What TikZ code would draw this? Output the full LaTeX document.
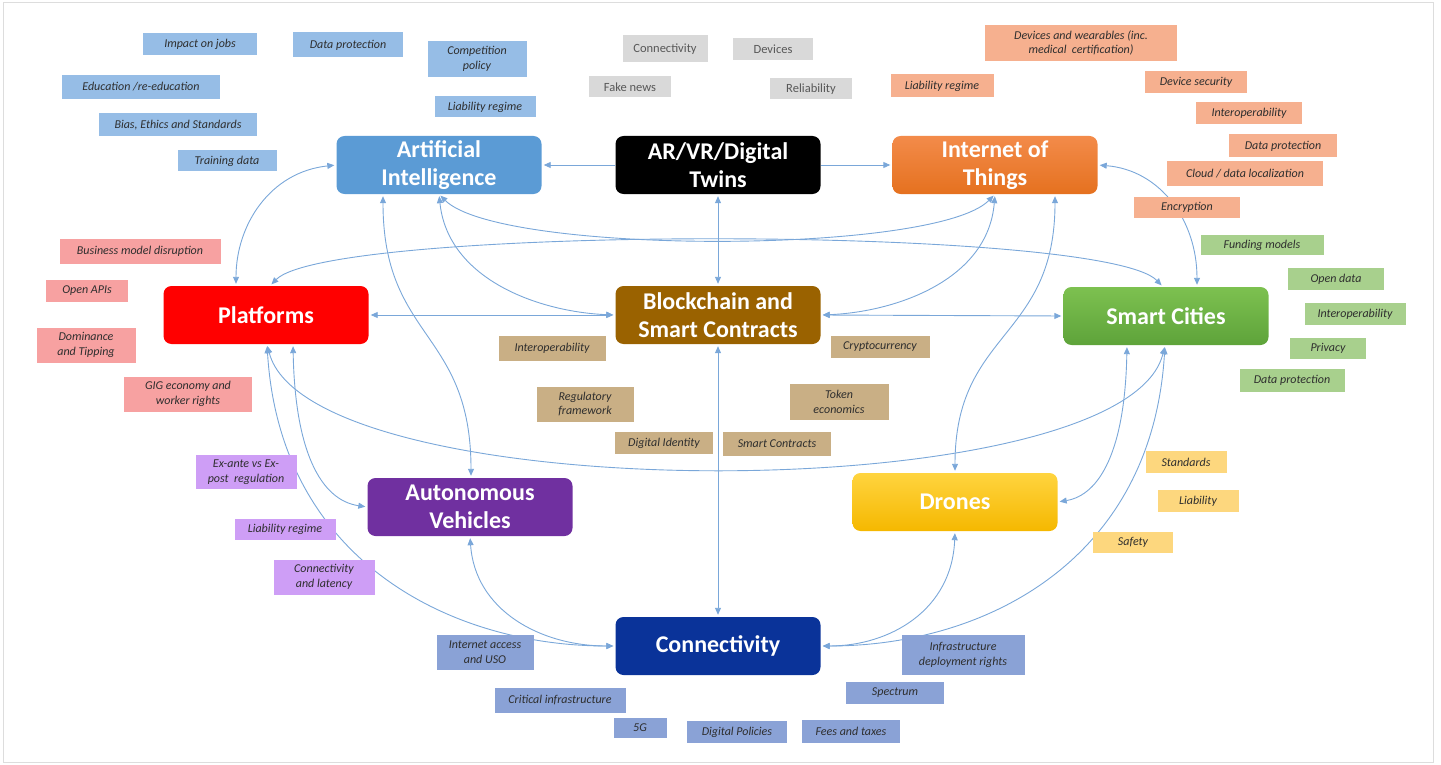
\documentclass[tikz,border=0pt]{standalone}
\usepackage{fontspec}
\setmainfont{Carlito}
\usetikzlibrary{arrows.meta,backgrounds}
\definecolor{aiC}{HTML}{5B9BD5}
\definecolor{iotT}{HTML}{F38B4A}
\definecolor{iotB}{HTML}{E5711F}
\definecolor{plC}{HTML}{FF0000}
\definecolor{bcC}{HTML}{9A6200}
\definecolor{scT}{HTML}{7DC150}
\definecolor{scB}{HTML}{5EA33A}
\definecolor{avC}{HTML}{7030A0}
\definecolor{drT}{HTML}{FFD43F}
\definecolor{drB}{HTML}{F5B800}
\definecolor{coC}{HTML}{0A3399}
\definecolor{aiL}{HTML}{96BDE6}
\definecolor{grL}{HTML}{D9D9D9}
\definecolor{iotL}{HTML}{F6B08F}
\definecolor{plL}{HTML}{F7A1A1}
\definecolor{bcL}{HTML}{C9AF85}
\definecolor{scL}{HTML}{A8D08D}
\definecolor{avL}{HTML}{CE9EF6}
\definecolor{coL}{HTML}{8AA2D6}
\definecolor{drL}{HTML}{FDD77E}
\definecolor{lnk}{HTML}{7AA7D9}
\definecolor{lbtext}{HTML}{2E2E2E}
\definecolor{framec}{HTML}{DDDDDD}
\begin{document}
\begin{tikzpicture}[x=1pt,y=-1pt,
  mainbox/.style={rounded corners=8pt, minimum width=205pt, minimum height=58pt,
    text=white, font=\bfseries\fontsize{24}{28}\selectfont, align=center, inner sep=2pt},
  lab/.style={inner sep=1pt, align=center, font=\itshape\fontsize{12}{14.5}\selectfont, text=lbtext},
  glab/.style={inner sep=1pt, align=center, font=\fontsize{12.5}{15}\selectfont, text=lbtext!80, fill=grL},
  link/.style={draw=lnk, line width=0.9pt, {Triangle[length=7pt,width=6pt]}-{Triangle[length=7pt,width=6pt]}, shorten <=2pt, shorten >=2pt},
  link1/.style={draw=lnk, line width=0.9pt, -{Triangle[length=7pt,width=6pt]}, shorten >=2pt}]
\useasboundingbox (0,0) rectangle (1441,765);
\draw[framec, line width=1pt] (3,3) rectangle (1433,762);

% main nodes
\node[mainbox, fill=aiC] (ai) at (439,165) {Artificial\\Intelligence};
\node[mainbox, fill=black] (ar) at (718,165) {AR/VR/Digital\\Twins};
\node[mainbox, top color=iotT, bottom color=iotB] (iot) at (995,165) {Internet of\\Things};
\node[mainbox, fill=plC] (plat) at (266,315) {Platforms};
\node[mainbox, fill=bcC] (bc) at (718,315) {Blockchain and\\Smart Contracts};
\node[mainbox, top color=scT, bottom color=scB] (sc) at (1166,316) {Smart Cities};
\node[mainbox, fill=avC] (av) at (470,507) {Autonomous\\Vehicles};
\node[mainbox, top color=drT, bottom color=drB] (dr) at (955,502) {Drones};
\node[mainbox, fill=coC] (con) at (718,646) {Connectivity};

% AI labels
\node[lab, fill=aiL, minimum width=114pt, minimum height=22pt] (l1) at (200,44) {Impact on jobs};
\node[lab, fill=aiL, minimum width=110pt, minimum height=25pt] (l2) at (348,45) {Data protection};
\node[lab, fill=aiL, minimum width=158pt, minimum height=24pt] (l3) at (141,87) {Education /re-education};
\node[lab, fill=aiL, minimum width=158pt, minimum height=23pt] (l4) at (178,125) {Bias, Ethics and Standards};
\node[lab, fill=aiL, minimum width=99pt, minimum height=21pt] (l5) at (227,161) {Training data};
\node[lab, fill=aiL, minimum width=99pt, minimum height=36pt] (l6) at (477,59) {Competition\\policy};
\node[lab, fill=aiL, minimum width=101pt, minimum height=21pt] (l7) at (485,107) {Liability regime};

% AR/VR labels
\node[glab, minimum width=85pt, minimum height=27pt] (g1) at (665,49) {Connectivity};
\node[glab, minimum width=80pt, minimum height=22pt] (g2) at (773,49) {Devices};
\node[glab, minimum width=82pt, minimum height=21pt] (g3) at (630,87) {Fake news};
\node[glab, minimum width=82pt, minimum height=21pt] (g4) at (811,89) {Reliability};

% IoT labels
\node[lab, fill=iotL, minimum width=192pt, minimum height=36pt] (i1) at (1081,43) {Devices and wearables (inc.\\medical~~certification)};
\node[lab, fill=iotL, minimum width=103pt, minimum height=23pt] (i2) at (942,86) {Liability regime};
\node[lab, fill=iotL, minimum width=102pt, minimum height=22pt] (i3) at (1196,82) {Device security};
\node[lab, fill=iotL, minimum width=106pt, minimum height=22pt] (i4) at (1249,113) {Interoperability};
\node[lab, fill=iotL, minimum width=108pt, minimum height=23pt] (i5) at (1283,146) {Data protection};
\node[lab, fill=iotL, minimum width=156pt, minimum height=25pt] (i6) at (1245,174) {Cloud / data localization};
\node[lab, fill=iotL, minimum width=106pt, minimum height=21pt] (i7) at (1187,207) {Encryption};

% Platforms labels
\node[lab, fill=plL, minimum width=161pt, minimum height=25pt] (p1) at (140,251) {Business model disruption};
\node[lab, fill=plL, minimum width=82pt, minimum height=22pt] (p2) at (87,291) {Open APIs};
\node[lab, fill=plL, minimum width=99pt, minimum height=35pt] (p3) at (86,345) {Dominance\\and Tipping};
\node[lab, fill=plL, minimum width=128pt, minimum height=35pt] (p4) at (188,394) {GIG economy and\\worker rights};

% Blockchain labels
\node[lab, fill=bcL, minimum width=107pt, minimum height=25pt] (b1) at (552,348) {Interoperability};
\node[lab, fill=bcL, minimum width=99pt, minimum height=22pt] (b2) at (880,347) {Cryptocurrency};
\node[lab, fill=bcL, minimum width=97pt, minimum height=35pt] (b3) at (585,404) {Regulatory\\framework};
\node[lab, fill=bcL, minimum width=99pt, minimum height=36pt] (b4) at (839,402) {Token\\economics};
\node[lab, fill=bcL, minimum width=98pt, minimum height=22pt] (b5) at (664,443) {Digital Identity};
\node[lab, fill=bcL, minimum width=108pt, minimum height=24pt] (b6) at (777,444) {Smart Contracts};

% Smart Cities labels
\node[lab, fill=scL, minimum width=123pt, minimum height=20pt] (s1) at (1262,245) {Funding models};
\node[lab, fill=scL, minimum width=96pt, minimum height=22pt] (s2) at (1336,279) {Open data};
\node[lab, fill=scL, minimum width=101pt, minimum height=22pt] (s3) at (1355,314) {Interoperability};
\node[lab, fill=scL, minimum width=76pt, minimum height=21pt] (s4) at (1328,348) {Privacy};
\node[lab, fill=scL, minimum width=105pt, minimum height=23pt] (s5) at (1292,380) {Data protection};

% AV labels
\node[lab, fill=avL, minimum width=101pt, minimum height=34pt] (a1) at (246,472) {Ex-ante vs Ex-\\post~~regulation};
\node[lab, fill=avL, minimum width=101pt, minimum height=21pt] (a2) at (285,529) {Liability regime};
\node[lab, fill=avL, minimum width=101pt, minimum height=35pt] (a3) at (324,577) {Connectivity\\and latency};

% Connectivity labels
\node[lab, fill=coL, minimum width=97pt, minimum height=35pt] (c1) at (485,652) {Internet access\\and USO};
\node[lab, fill=coL, minimum width=131pt, minimum height=25pt] (c2) at (560,700) {Critical infrastructure};
\node[lab, fill=coL, minimum width=53pt, minimum height=20pt] (c3) at (640,728) {5G};
\node[lab, fill=coL, minimum width=100pt, minimum height=22pt] (c4) at (737,732) {Digital Policies};
\node[lab, fill=coL, minimum width=98pt, minimum height=23pt] (c5) at (851,731) {Fees and taxes};
\node[lab, fill=coL, minimum width=98pt, minimum height=22pt] (c6) at (895,693) {Spectrum};
\node[lab, fill=coL, minimum width=123pt, minimum height=40pt] (c7) at (963,655) {Infrastructure\\deployment rights};

% Drones labels
\node[lab, fill=drL, minimum width=81pt, minimum height=22pt] (d1) at (1186,462) {Standards};
\node[lab, fill=drL, minimum width=81pt, minimum height=22pt] (d2) at (1198,501) {Liability};
\node[lab, fill=drL, minimum width=80pt, minimum height=21pt] (d3) at (1133,542) {Safety};

% connectors
\begin{scope}[on background layer]
\draw[link1] (ar.west) -- (ai.east);
\draw[link1] (ar.east) -- (iot.west);
\draw[link] (ar.south) -- (bc.north);
\draw[link] (bc.west) -- (plat.east);
\draw[link] (bc.east) -- (sc.west);
\draw[link] (bc.south) -- (con.north);
% AI <-> Platforms
\draw[link] (ai.west) .. controls (270,172) and (236,225) .. ([xshift=-30pt]plat.north);
% AI <-> AV
\draw[link] ([xshift=-56pt]ai.south) .. controls (383,340) and (471,330) .. ([xshift=1pt]av.north);
% IoT <-> Drones
\draw[link] ([xshift=60pt]iot.south) .. controls (1055,340) and (955,330) .. (dr.north);
% AI <-> Blockchain
\draw[link] (ai.south) .. controls (448,280) and (540,312) .. (bc.west);
% IoT <-> Blockchain
\draw[link] (iot.south) .. controls (988,280) and (896,312) .. (bc.east);
% AI <-> IoT sag
\draw[link] (ai.south) .. controls (500,255) and (935,255) .. (iot.south);
% Platforms <-> Smart Cities hump
\draw[link] ([xshift=4pt]plat.north) .. controls (330,225) and (1103,225) .. ([xshift=-3pt]sc.north);
% IoT <-> Smart Cities
\draw[link] (iot.east) .. controls (1160,170) and (1197,220) .. ([xshift=31pt]sc.north);
% Platforms <-> Smart Cities sag
\draw[link] ([xshift=1pt]plat.south) .. controls (310,510) and (1125,510) .. ([xshift=-1pt]sc.south);
% Platforms <-> Connectivity
\draw[link] ([xshift=1pt]plat.south) .. controls (280,560) and (450,646) .. (con.west);
% Platforms <-> AV
\draw[link] ([xshift=27pt]plat.south) .. controls (295,450) and (320,500) .. (av.west);
% Smart Cities <-> Connectivity
\draw[link] ([xshift=-1pt]sc.south) .. controls (1152,560) and (986,646) .. (con.east);
% Smart Cities <-> Drones
\draw[link] ([xshift=-39pt]sc.south) .. controls (1125,450) and (1100,495) .. (dr.east);
% AV <-> Connectivity
\draw[link] (av.south) .. controls (475,610) and (540,646) .. (con.west);
% Drones <-> Connectivity
\draw[link] (dr.south) .. controls (952,610) and (890,646) .. (con.east);
\end{scope}
\end{tikzpicture}
\end{document}
